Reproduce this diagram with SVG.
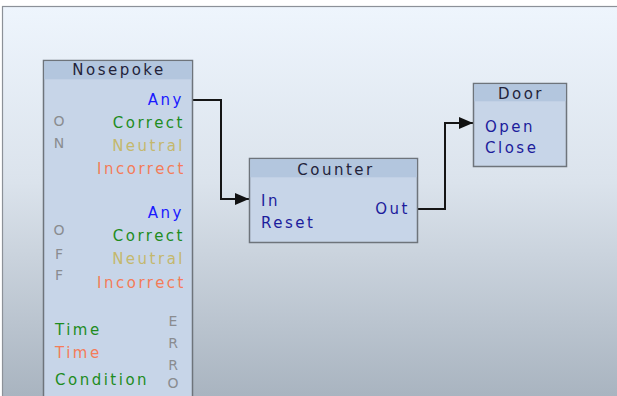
<svg xmlns="http://www.w3.org/2000/svg" width="617" height="396" viewBox="0 0 617 396">
<defs>
<linearGradient id="bg" x1="0" y1="7" x2="0" y2="396" gradientUnits="userSpaceOnUse">
<stop offset="0" stop-color="#eef5fd"/>
<stop offset="0.45" stop-color="#dbe3ec"/>
<stop offset="1" stop-color="#a9b4c0"/>
</linearGradient>
<marker id="arr" viewBox="0 0 14 12" refX="14" refY="6" markerWidth="14" markerHeight="12" markerUnits="userSpaceOnUse" orient="auto">
<path d="M0,0 L14,6 L0,12 Z" fill="#111"/>
</marker>
<style>
text{font-family:"DejaVu Sans","Verdana",sans-serif;font-size:15px;letter-spacing:2.5px}
.box{fill:#c7d5e8;stroke:#6e747b;stroke-width:1.5}
.hdr{fill:#b3c6de}
.ttl{fill:#23233a;text-anchor:middle}
.port{fill:#1c1c9c}
.any{fill:#1a1aff}
.cor{fill:#1e8c1e}
.neu{fill:#c4b86c}
.inc{fill:#f47c58}
.gl{fill:#8a8c90;font-size:14px;letter-spacing:0;text-anchor:middle}
.r{text-anchor:end}
.wire{fill:none;stroke:#151515;stroke-width:2}
</style>
</defs>
<rect x="0" y="0" width="617" height="396" fill="#ffffff"/>
<rect x="2.5" y="6.5" width="616" height="392" fill="url(#bg)" stroke="#8c9198" stroke-width="1.2"/>
<g id="connectors">
<path class="wire" d="M193,100 H221 V199 H249" marker-end="url(#arr)"/>
<path class="wire" d="M418,209 H445 V123 H473" marker-end="url(#arr)"/>
</g>
<g id="nosepoke">
<rect class="box" x="43.5" y="60.5" width="149" height="345"/>
<rect class="hdr" x="44.3" y="61.3" width="147.4" height="18"/>
<text class="ttl" x="119" y="75">Nosepoke</text>
<text class="any r" x="184" y="105">Any</text>
<text class="cor r" x="185" y="128">Correct</text>
<text class="neu r" x="185" y="151">Neutral</text>
<text class="inc r" x="186" y="174">Incorrect</text>
<text class="gl" x="59" y="126">O</text>
<text class="gl" x="59" y="148">N</text>
<text class="any r" x="184" y="218">Any</text>
<text class="cor r" x="185" y="241">Correct</text>
<text class="neu r" x="185" y="264">Neutral</text>
<text class="inc r" x="186" y="288">Incorrect</text>
<text class="gl" x="59" y="235">O</text>
<text class="gl" x="59" y="259">F</text>
<text class="gl" x="59" y="280">F</text>
<text class="cor" x="55" y="335">Time</text>
<text class="inc" x="55" y="358">Time</text>
<text class="cor" x="55" y="385">Condition</text>
<text class="gl" x="173" y="326">E</text>
<text class="gl" x="173" y="348">R</text>
<text class="gl" x="173" y="370">R</text>
<text class="gl" x="173" y="388">O</text>
</g>
<g id="counter">
<rect class="box" x="249.5" y="158.5" width="168" height="84"/>
<rect class="hdr" x="250.3" y="159.3" width="166.4" height="18"/>
<text class="ttl" x="336" y="175">Counter</text>
<text class="port" x="261" y="206">In</text>
<text class="port" x="261" y="228">Reset</text>
<text class="port r" x="410" y="214">Out</text>
</g>
<g id="door">
<rect class="box" x="473.5" y="83.5" width="93" height="83"/>
<rect class="hdr" x="474.3" y="84.3" width="91.4" height="17"/>
<text class="ttl" x="521" y="99">Door</text>
<text class="port" x="485" y="132">Open</text>
<text class="port" x="485" y="153">Close</text>
</g>
</svg>
